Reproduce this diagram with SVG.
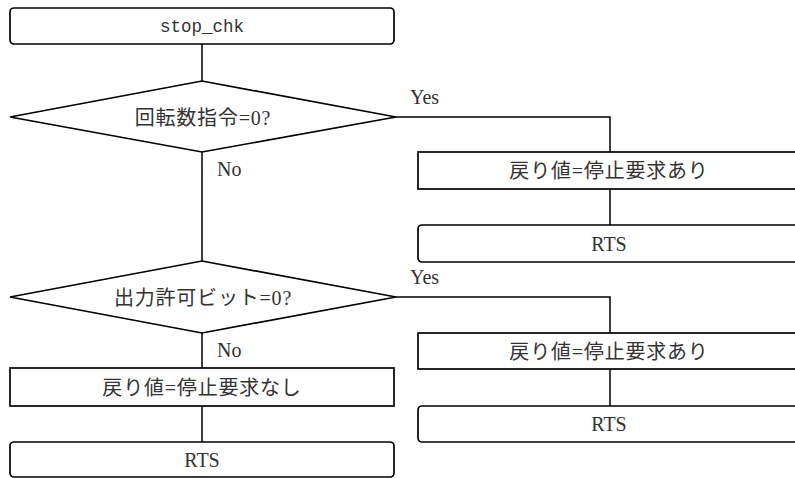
<svg xmlns="http://www.w3.org/2000/svg" width="795" height="478" viewBox="0 0 795 478">
<style>
.s{fill:#fff;stroke:#000;stroke-width:1.7}
.c{fill:none;stroke:#000;stroke-width:1.5}
.j{font-family:"Liberation Serif","Noto Sans CJK JP",serif;font-size:20px;letter-spacing:0.8px;fill:#333;text-anchor:middle}
.l{font-family:"Liberation Serif",serif;font-size:20px;fill:#333}
.m{font-family:"Liberation Mono",monospace;font-size:17.5px;fill:#333;text-anchor:middle}
.r{font-family:"Liberation Serif",serif;font-size:20px;fill:#333;text-anchor:middle}
</style>
<rect width="795" height="478" fill="#fff"/>
<g id="connectors">
<path class="c" d="M202 44V81M202 152V261M202 333V368M202 406V442"/>
<path class="c" d="M396 117H610V152M610 189V225"/>
<path class="c" d="M396 297H610V333M610 369V406"/>
<text class="l" x="410" y="104">Yes</text>
<text class="l" x="217" y="176">No</text>
<text class="l" x="410" y="284">Yes</text>
<text class="l" x="217" y="357">No</text>
</g>
<g id="start"><rect class="s" x="10" y="8" width="384" height="36" rx="4"/><text class="m" x="202" y="32">stop_chk</text></g>
<g id="dec1"><polygon class="s" points="10,117 202,81 396,117 202,152"/><text class="j" x="203" y="124.5">回転数指令=0?</text></g>
<g id="set1"><rect class="s" x="418" y="152" width="384" height="37"/><text class="j" x="609" y="178">戻り値=停止要求あり</text></g>
<g id="rts1"><rect class="s" x="418" y="225" width="384" height="37" rx="4"/><text class="r" x="609" y="250.5">RTS</text></g>
<g id="dec2"><polygon class="s" points="10,297 202,261 396,297 202,333"/><text class="j" x="203" y="304.5">出力許可ビット=0?</text></g>
<g id="set2"><rect class="s" x="418" y="333" width="384" height="36"/><text class="j" x="609" y="358.5">戻り値=停止要求あり</text></g>
<g id="rts2"><rect class="s" x="418" y="406" width="384" height="36" rx="4"/><text class="r" x="609" y="431">RTS</text></g>
<g id="set3"><rect class="s" x="10" y="368" width="384" height="38"/><text class="j" x="202" y="394.5">戻り値=停止要求なし</text></g>
<g id="rts3"><rect class="s" x="10" y="442" width="384" height="35" rx="4"/><text class="r" x="202" y="466.5">RTS</text></g>
</svg>
